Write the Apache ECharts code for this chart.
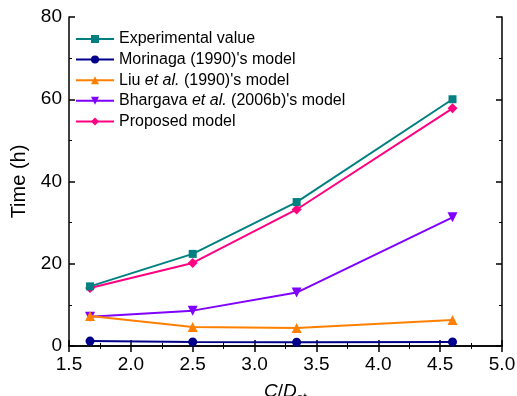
<!DOCTYPE html>
<html><head><meta charset="utf-8">
<script src="https://cdn.jsdelivr.net/npm/echarts@6/dist/echarts.min.js"></script>
<style>html,body{margin:0;padding:0;background:#fff}#c{width:517px;height:396px}</style>
</head><body><div id="c"></div>
<script>
var xValues = [1.67, 2.5, 3.34, 4.6];
var seriesNames = ["Experimental value", "Morinaga (1990)'s model", "Liu et al. (1990)'s model", "Bhargava et al. (2006b)'s model", "Proposed model"];
var experimental = [14.5, 22.4, 35.0, 60.0];
var morinaga = [1.2, 1.0, 0.9, 1.0];
var liu = [7.3, 4.6, 4.4, 6.3];
var bhargava = [7.1, 8.6, 13.0, 31.3];
var proposed = [14.1, 20.2, 33.2, 57.8];
var colors = ['#008080', '#00008B', '#FF8000', '#8000FF', '#FF0080'];
var symbols = ['rect', 'circle', 'triangle', 'path://M0,0 L10,0 L5,10 Z', 'diamond'];
var sizes = [8, 9, 10, 10, 10];
var allData = [experimental, morinaga, liu, bhargava, proposed];

var font = 'Liberation Sans, Arial, sans-serif';
var series = allData.map(function (d, i) {
  return {
    name: seriesNames[i], type: 'line',
    data: d.map(function (v, j) { return [xValues[j], v]; }),
    symbol: symbols[i], symbolSize: sizes[i],
    lineStyle: { color: colors[i], width: 2 },
    itemStyle: { color: colors[i] },
    z: 10 - i
  };
});
var axisCommon = {
  axisLine: { show: true, lineStyle: { color: '#000', width: 1.5 } },
  axisTick: { show: true, inside: true, length: 6, lineStyle: { color: '#000', width: 1.5 } },
  minorTick: { show: true, splitNumber: 2, length: 3, lineStyle: { color: '#000', width: 1 } },
  splitLine: { show: false }
};
function ax(o) { return Object.assign({}, JSON.parse(JSON.stringify(axisCommon)), o); }
var chart = echarts.init(document.getElementById('c'));
chart.setOption({
  animation: false,
  textStyle: { fontFamily: font },
  grid: { left: 69, right: 15, top: 17, bottom: 50, containLabel: false, outerBoundsMode: 'none' },
  legend: {
    left: 70, top: 26, orient: 'vertical', itemGap: 4.6, itemWidth: 38, itemHeight: 10,
    data: seriesNames,
    formatter: function (n) { return n.replace('et al.', '{i|et al.}'); },
    textStyle: { fontSize: 16, color: '#000', fontFamily: font,
      rich: { i: { fontStyle: 'italic', fontSize: 16, fontFamily: font, color: '#000' } } }
  },
  xAxis: [
    ax({ type: 'value', min: 1.5, max: 5, interval: 0.5,
      name: '{i|C}/{i|D}{s|st}', nameLocation: 'middle', nameGap: 32,
      nameTextStyle: { fontSize: 19, color: '#000',
        rich: { i: { fontStyle: 'italic', fontSize: 19, color: '#000', fontFamily: font },
                s: { fontSize: 13, color: '#000', fontFamily: font, padding: [14, 0, 0, 0] } } },
      axisLabel: { fontSize: 19, color: '#000', margin: 9, formatter: function (v) { return v.toFixed(1); } } }),
    ax({ type: 'value', position: 'top', min: 1.5, max: 5, interval: 0.5, axisLabel: { show: false } })
  ],
  yAxis: [
    ax({ type: 'value', min: 0, max: 80, interval: 20,
      name: 'Time (h)', nameLocation: 'middle', nameGap: 40,
      nameTextStyle: { fontSize: 20, color: '#000' },
      axisLabel: { fontSize: 19, color: '#000', margin: 7 } }),
    ax({ type: 'value', position: 'right', min: 0, max: 80, interval: 20, axisLabel: { show: false } })
  ],
  series: series
});
</script></body></html>
